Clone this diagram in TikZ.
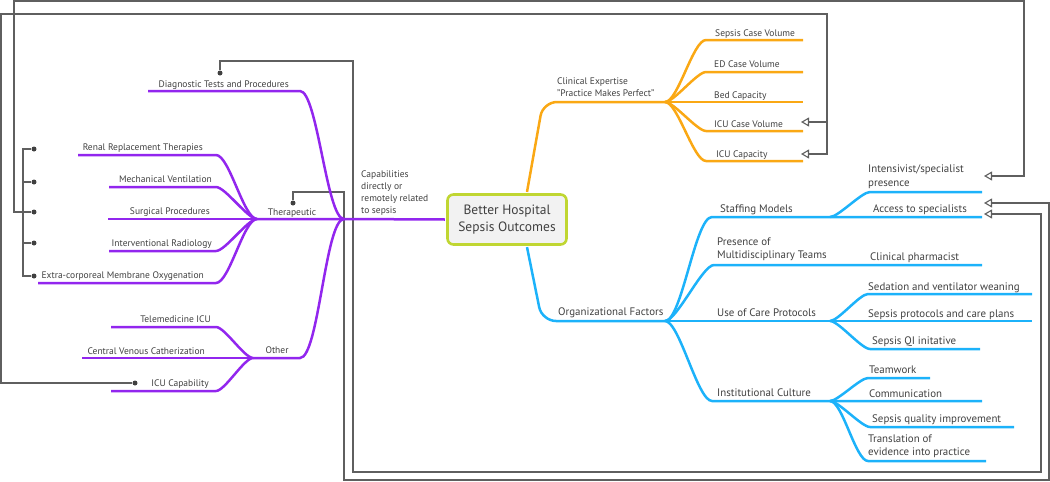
\documentclass[tikz,border=0pt]{standalone}
\usepackage{fontspec}
\setmainfont{PT Sans}
\usetikzlibrary{arrows.meta}
\definecolor{capv}{RGB}{146,38,238}
\definecolor{expo}{RGB}{250,168,20}
\definecolor{orgb}{RGB}{28,178,250}
\definecolor{linkg}{RGB}{95,95,95}
\definecolor{txtg}{RGB}{64,64,64}
\definecolor{corel}{RGB}{192,214,50}
\begin{document}
\begin{tikzpicture}[x=1pt,y=-1pt,font=\fontsize{9.5}{12}\selectfont,text=txtg]
% Mind map of hospital capabilities. Units are pixels of the layout,
% y runs downwards. Branches end on named coordinates.
\useasboundingbox (0,0) rectangle (1050,482);

\tikzset{
  lab/.style={inner sep=0pt,align=left},
  blab/.style={inner sep=0pt,align=left,font=\fontsize{10.9}{13.5}\selectfont},
  capline/.style={capv,line width=2.5pt},
  expline/.style={expo,line width=2.5pt},
  orgline/.style={orgb,line width=2.5pt},
  lb/.style={out=180,in=0,looseness=0.45},
  rb/.style={out=0,in=180,looseness=0.45},
  link/.style={linkg,line width=1.1pt},
  ptr/.style={link,-{Triangle[open,length=8pt,width=9pt]}},
  pin/.style={circle,fill=black!75,inner sep=0pt,minimum size=5pt},
  core/.style={draw=corel,fill=gray!10,line width=2.6pt,rounded corners=6pt,
    minimum width=119pt,minimum height=50pt,align=center,
    font=\fontsize{13.5}{17}\selectfont}
}

% Hubs and branch ends.
\coordinate (phub) at (344,219);  \coordinate (thub) at (257,219);
\coordinate (othub) at (253,358); \coordinate (ehub) at (665,102);
\coordinate (orghub) at (665,321); \coordinate (stfhub) at (830,217);
\coordinate (prothub) at (830,321); \coordinate (culthub) at (830,401);
\coordinate (ecorner) at (543,102); \coordinate (ocorner) at (542,321);

% Pins and arrow targets.
\node[pin] (rrdot) at (34,149) {};
\node[pin] (mvdot) at (34,182) {};
\node[pin] (spdot) at (34,212) {};
\node[pin] (irdot) at (34,243) {};
\node[pin] (ecdot) at (34,276) {};
\node[pin] (icdot) at (135,383) {};
\node[pin] (dgdot) at (220,73) {};
\node[pin] (thdot) at (293,203) {};
\coordinate (icuv-in) at (801,122); \coordinate (icuc-in) at (801,154);
\coordinate (icujoin) at (827,122);
\coordinate (ints-in) at (984,176);
\coordinate (acc-in1) at (984,203); \coordinate (acc-in2) at (984,214);

% Cross links.
\draw[link] (rrdot) -| (23,276) -- (ecdot);
\foreach \d in {mvdot,irdot}
  \draw[link] (\d) -- (\d -| 23,0);
\draw[ptr] (spdot) -| (14,1) -| (1024,176) -- (ints-in);
\draw[ptr] (icdot) -| (1,14) -| (827,154) -- (icuc-in);
\draw[ptr] (icujoin) -- (icuv-in);
\draw[ptr] (dgdot) |- (353,61) |- (1041,472) |- (acc-in2);
\draw[ptr] (thdot) |- (344,192) |- (1049,480) |- (acc-in1);

% Centre.
\node[core] (cbox) at (507,219.5) {Better Hospital\\Sepsis Outcomes};

% Purple branch.
\draw[capline] ([xshift=-1.3pt]cbox.west) -- (phub) -- (thub);
\draw[capline] (phub) to[lb,looseness=0.33] (300,91) -- (148,91);
\draw[capline] (phub) to[lb,looseness=0.33] (300,358) -- (othub);
\foreach \n/\y/\xl in {rr/155/78,mv/187/109,ir/251/109,ec/283/38}{
  \coordinate (\n-r) at (216,\y);
  \draw[capline] (thub) to[lb] (\n-r) -- (\xl,\y);
}
\draw[capline] (thub) -- (108,219);
\foreach \n/\y/\xl in {tm/327/111,ic/391/111}{
  \coordinate (\n-r) at (216,\y);
  \draw[capline] (othub) to[lb] (\n-r) -- (\xl,\y);
}
\draw[capline] (othub) -- (82,358);

\node[lab,anchor=north west] (capl) at (361,171) {Capabilities\\directly or\\remotely related\\to sepsis};
\node[lab,anchor=base east] (dgt) at (289,87.5) {Diagnostic Tests and Procedures};
\node[lab,anchor=base east] (rrt) at (203,150.5) {Renal Replacement Therapies};
\node[lab,anchor=base east] (mvt) at (212,182.5) {Mechanical Ventilation};
\node[lab,anchor=base east] (spt) at (210,214.5) {Surgical Procedures};
\node[lab,anchor=base east] (irt) at (212,246.5) {Interventional Radiology};
\node[lab,anchor=base east] (ect) at (204,278.5) {Extra-corporeal Membrane Oxygenation};
\node[lab,anchor=base east] (tmt) at (211,322.5) {Telemedicine ICU};
\node[lab,anchor=base east] (cvt) at (205,354.5) {Central Venous Catherization};
\node[lab,anchor=base east] (ict) at (209,386.5) {ICU Capability};
\node[lab,anchor=base] (thpt) at (292,215.5) {Therapeutic};
\node[lab,anchor=base] (othl) at (277,353.5) {Other};

% Orange branch.
\draw[expline,rounded corners=14pt] ([xshift=20pt,yshift=1.3pt]cbox.north) -- (ecorner) -- (ehub);
\foreach \n/\y in {sep/40,edv/72,icv/131,icc/161}{
  \coordinate (\n-l) at (706,\y);
  \draw[expline] (ehub) to[rb] (\n-l) -- (803,\y);
}
\draw[expline] (ehub) -- (803,102);

\node[lab,anchor=west] (clin) at (557,87) {Clinical Expertise\\"Practice Makes Perfect"};
\node[lab,anchor=base west] (sepv) at (715,36.5) {Sepsis Case Volume};
\node[lab,anchor=base west] (edcv) at (714,67.5) {ED Case Volume};
\node[lab,anchor=base west] (bedc) at (714,98.5) {Bed Capacity};
\node[lab,anchor=base west] (icuv) at (714,127.5) {ICU Case Volume};
\node[lab,anchor=base west] (icuc) at (716,157.5) {ICU Capacity};

% Blue branch.
\draw[orgline,rounded corners=14pt] ([xshift=20pt,yshift=-1.3pt]cbox.south) -- (ocorner) -- (orghub);
\draw[orgline] (orghub) to[rb,looseness=0.38] (712,217) -- (stfhub) -- (982,217);
\draw[orgline] (orghub) to[rb,looseness=0.4] (714,265) -- (982,265);
\draw[orgline] (orghub) -- (prothub) -- (1032,321);
\draw[orgline] (orghub) to[rb,looseness=0.4] (712,401) -- (culthub) -- (982,401);
\draw[orgline] (stfhub) to[rb] (870,192) -- (982,192);
\draw[orgline] (prothub) to[rb] (868,294) -- (1032,294);
\draw[orgline] (prothub) to[rb] (870,349) -- (980,349);
\draw[orgline] (culthub) to[rb] (868,378) -- (930,378);
\draw[orgline] (culthub) to[rb] (870,427) -- (1014,427);
\draw[orgline] (culthub) to[rb] (868,461) -- (986,461);

\node[blab,anchor=base west] (orgf) at (558,315) {Organizational Factors};
\node[blab,anchor=base west] (stfm) at (720,212) {Staffing Models};
\node[blab,anchor=west] (mdt) at (717,249.5) {Presence of\\Multidisciplinary Teams};
\node[blab,anchor=base west] (ucp) at (717,316) {Use of Care Protocols};
\node[blab,anchor=base west] (inst) at (717,396) {Institutional Culture};
\node[blab,anchor=west] (ints) at (868,176.5) {Intensivist/specialist\\presence};
\node[blab,anchor=base west] (accs) at (873,212) {Access to specialists};
\node[blab,anchor=base west] (cph) at (870,260) {Clinical pharmacist};
\node[blab,anchor=base west] (sedw) at (868,290) {Sedation and ventilator weaning};
\node[blab,anchor=base west] (sprot) at (868,317) {Sepsis protocols and care plans};
\node[blab,anchor=base west] (sqi) at (872,344) {Sepsis QI initative};
\node[blab,anchor=base west] (tmw) at (869,373) {Teamwork};
\node[blab,anchor=base west] (comm) at (869,397) {Communication};
\node[blab,anchor=base west] (squi) at (872,422) {Sepsis quality improvement};
\node[blab,anchor=west] (trans) at (868,446) {Translation of\\evidence into practice};
\end{tikzpicture}
\end{document}
